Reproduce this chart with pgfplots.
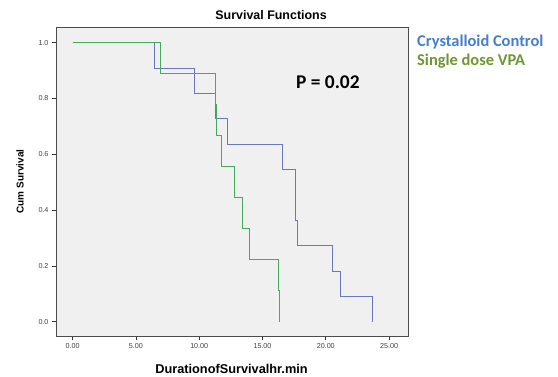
\documentclass[border=0pt]{standalone}
\usepackage{fontspec}
\setmainfont{Liberation Sans}
\newfontfamily\carlitofont{Carlito}
\usepackage{pgfplots}
\pgfplotsset{compat=1.18}
\definecolor{bgc}{RGB}{240,240,240}
\definecolor{blc}{RGB}{105,120,192}
\definecolor{grc}{RGB}{70,170,95}
\definecolor{legb}{RGB}{70,125,205}
\definecolor{legg}{RGB}{110,150,50}
\begin{document}
\begin{tikzpicture}
\begin{axis}[
  scale only axis, width=352bp, height=309bp,
  xmin=-1.32, xmax=26.5, ymin=-0.051, ymax=1.056,
  axis background/.style={fill=bgc},
  axis line style={draw=black!70, line width=0.8pt},
  xtick={0,5,10,15,20,25}, ytick={0,0.2,0.4,0.6,0.8,1.0},
  xticklabel style={/pgf/number format/.cd, fixed, fixed zerofill, precision=2},
  yticklabel style={/pgf/number format/.cd, fixed, fixed zerofill, precision=1},
  /pgf/number format/assume math mode=true,
  ticklabel style={font=\fontsize{7.2}{8}\selectfont, text=black!75},
  tick align=outside, major tick length=4bp, tick style={black!80, line width=0.6pt},
  xtick pos=bottom, ytick pos=left,
  clip=false,
]
\addplot[blc, line width=0.9pt, const plot] coordinates {
 (0,1.0) (6.45,0.909) (9.66,0.818) (11.29,0.727) (12.24,0.636) (16.56,0.545)
 (17.6,0.364) (17.74,0.273) (20.54,0.182) (21.19,0.091) (23.7,0.091)};
\addplot[blc, line width=0.9pt] coordinates {(23.7,0.091) (23.7,0)};
\addplot[grc, line width=0.9pt, const plot] coordinates {
 (0,1.0) (6.9,0.889) (11.29,0.778) (11.38,0.667) (11.77,0.556) (12.77,0.444)
 (13.43,0.333) (13.95,0.222) (16.27,0.111) (16.35,0.111)};
\addplot[grc, line width=0.9pt] coordinates {(16.35,0.111) (16.35,0)};
\node[anchor=center, font=\carlitofont\bfseries\fontsize{19.5}{20}\selectfont] at (axis cs:20.17,0.858) {P = 0.02};
\node[anchor=base, font=\bfseries\fontsize{12.5}{13}\selectfont] at (axis description cs:0.611,1.023) {Survival Functions};
\node[anchor=base, font=\bfseries\fontsize{12.8}{13}\selectfont] at (axis description cs:0.4986,-0.12) {DurationofSurvivalhr.min};
\node[anchor=center, rotate=90, font=\bfseries\fontsize{10}{11}\selectfont] at (axis description cs:-0.102,0.5) {Cum Survival};
\end{axis}
\node[anchor=west, font=\carlitofont\bfseries\fontsize{16.5}{17}\selectfont, text=legb, inner sep=0pt] at ([xshift=9bp,yshift=-15bp]current axis.north east) {Crystalloid Control};
\node[anchor=west, font=\carlitofont\bfseries\fontsize{16.5}{17}\selectfont, text=legg, inner sep=0pt] at ([xshift=9bp,yshift=-34bp]current axis.north east) {Single dose VPA};
\path[use as bounding box] ([xshift=-56bp,yshift=-39bp]current axis.south west) rectangle ([xshift=150bp,yshift=27bp]current axis.north east);
\end{tikzpicture}
\end{document}
